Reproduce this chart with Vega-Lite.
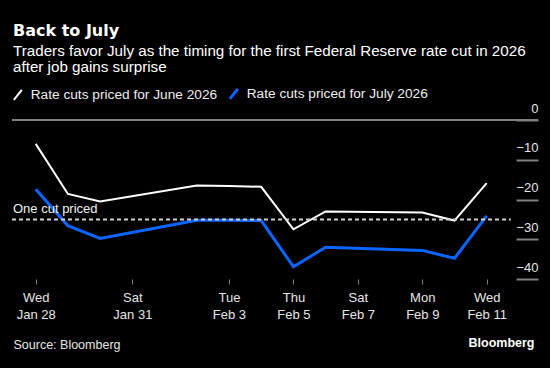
{
  "$schema": "https://vega.github.io/schema/vega-lite/v6.json",
  "autosize": {"type": "none"},
  "width": 526,
  "height": 159,
  "padding": {"left": 12, "top": 120, "right": 12, "bottom": 89},
  "background": "#000000",
  "config": {
    "view": {"stroke": null},
    "font": "Liberation Sans"
  },
  "title": {
    "text": "Back to July",
    "subtitle": ["Traders favor July as the timing for the first Federal Reserve rate cut in 2026", "after job gains surprise"],
    "anchor": "start",
    "frame": "group",
    "offset": 12,
    "dx": 1,
    "font": "DejaVu Sans",
    "fontSize": 16,
    "fontWeight": "bold",
    "color": "#ffffff",
    "subtitleFont": "Liberation Sans",
    "subtitleFontSize": 15.2,
    "subtitleColor": "#ffffff",
    "subtitleLineHeight": 16,
    "subtitlePadding": 5
  },
  "data": {
    "values": [
      {"date": "2026-01-28", "series": "Rate cuts priced for June 2026", "value": -6.0},
      {"date": "2026-01-29", "series": "Rate cuts priced for June 2026", "value": -18.6},
      {"date": "2026-01-30", "series": "Rate cuts priced for June 2026", "value": -20.5},
      {"date": "2026-02-02", "series": "Rate cuts priced for June 2026", "value": -16.5},
      {"date": "2026-02-03", "series": "Rate cuts priced for June 2026", "value": -16.6},
      {"date": "2026-02-04", "series": "Rate cuts priced for June 2026", "value": -16.8},
      {"date": "2026-02-05", "series": "Rate cuts priced for June 2026", "value": -27.5},
      {"date": "2026-02-06", "series": "Rate cuts priced for June 2026", "value": -23.0},
      {"date": "2026-02-09", "series": "Rate cuts priced for June 2026", "value": -23.3},
      {"date": "2026-02-10", "series": "Rate cuts priced for June 2026", "value": -25.3},
      {"date": "2026-02-11", "series": "Rate cuts priced for June 2026", "value": -15.9},
      {"date": "2026-01-28", "series": "Rate cuts priced for July 2026", "value": -17.4},
      {"date": "2026-01-29", "series": "Rate cuts priced for July 2026", "value": -26.6},
      {"date": "2026-01-30", "series": "Rate cuts priced for July 2026", "value": -29.8},
      {"date": "2026-02-02", "series": "Rate cuts priced for July 2026", "value": -25.2},
      {"date": "2026-02-03", "series": "Rate cuts priced for July 2026", "value": -25.2},
      {"date": "2026-02-04", "series": "Rate cuts priced for July 2026", "value": -25.3},
      {"date": "2026-02-05", "series": "Rate cuts priced for July 2026", "value": -36.9},
      {"date": "2026-02-06", "series": "Rate cuts priced for July 2026", "value": -32.0},
      {"date": "2026-02-09", "series": "Rate cuts priced for July 2026", "value": -32.8},
      {"date": "2026-02-10", "series": "Rate cuts priced for July 2026", "value": -34.8},
      {"date": "2026-02-11", "series": "Rate cuts priced for July 2026", "value": -24.1}
    ]
  },
  "layer": [
    {
      "mark": {"type": "line", "interpolate": "linear"},
      "encoding": {
        "x": {
          "field": "date",
          "type": "temporal",
          "scale": {
            "type": "utc",
            "domain": [
              {"year": 2026, "month": 1, "date": 27, "hours": 6, "minutes": 20, "utc": true},
              {"year": 2026, "month": 2, "date": 12, "hours": 14, "minutes": 14, "utc": true}
            ]
          },
          "axis": {
            "values": [
              {"year": 2026, "month": 1, "date": 28, "utc": true},
              {"year": 2026, "month": 1, "date": 31, "utc": true},
              {"year": 2026, "month": 2, "date": 3, "utc": true},
              {"year": 2026, "month": 2, "date": 5, "utc": true},
              {"year": 2026, "month": 2, "date": 7, "utc": true},
              {"year": 2026, "month": 2, "date": 9, "utc": true},
              {"year": 2026, "month": 2, "date": 11, "utc": true}
            ],
            "tickCount": 20,
            "labelExpr": "[utcFormat(datum.value, '%a'), utcFormat(datum.value, '%b %-d')]",
            "labelFontSize": 13,
            "labelColor": "#e6e6e6",
            "labelLineHeight": 17,
            "labelBaseline": "top",
            "labelAlign": "center",
            "labelPadding": 7,
            "labelFlush": false,
            "labelOverlap": false,
            "tickSize": 5,
            "tickColor": "#808080",
            "tickWidth": 1,
            "domain": false,
            "grid": false,
            "title": "Source: Bloomberg",
            "titleFontSize": 12.5,
            "titleFontWeight": "normal",
            "titleColor": "#e6e6e6",
            "titleAnchor": "start",
            "titleAlign": "left",
            "titleBaseline": "alphabetic",
            "titleX": 1,
            "titleY": 69.5
          }
        },
        "y": {
          "field": "value",
          "type": "quantitative",
          "scale": {"domain": [-40, 0], "nice": false, "zero": false},
          "axis": {
            "orient": "right",
            "values": [0, -10, -20, -30, -40],
            "tickCount": 10,
            "grid": false,
            "domain": false,
            "tickSize": -22,
            "tickColor": "#808080",
            "tickWidth": 2,
            "labelAlign": "right",
            "labelPadding": 22,
            "labelBaseline": "alphabetic",
            "labelOffset": -8,
            "labelOverlap": false,
            "labelFlush": false,
            "labelFontSize": 13,
            "labelColor": "#e6e6e6",
            "title": "Bloomberg",
            "titleAngle": 0,
            "titleFontSize": 12.5,
            "titleFontWeight": "bold",
            "titleColor": "#ffffff",
            "titleAlign": "left",
            "titleBaseline": "alphabetic",
            "titleX": -70,
            "titleY": 226.7
          }
        },
        "color": {
          "field": "series",
          "type": "nominal",
          "scale": {
            "domain": ["Rate cuts priced for June 2026", "Rate cuts priced for July 2026"],
            "range": ["#ffffff", "#0a66ff"]
          },
          "legend": {
            "orient": "none",
            "legendX": -1,
            "legendY": -33,
            "direction": "horizontal",
            "title": null,
            "padding": 0,
            "columnPadding": 5,
            "symbolType": "M-0.8,1L0.8,-1",
            "symbolSize": 100,
            "symbolStrokeWidth": 3,
            "labelOffset": 6,
            "labelFontSize": 13.7,
            "labelLimit": 400,
            "labelColor": "#eeeeee",
            "labelFont": "Liberation Sans"
          }
        },
        "strokeWidth": {
          "field": "series",
          "type": "nominal",
          "scale": {
            "domain": ["Rate cuts priced for June 2026", "Rate cuts priced for July 2026"],
            "range": [2, 3]
          },
          "legend": null
        }
      }
    },
    {
      "data": {"values": [{"zero": 0}]},
      "mark": {"type": "rule", "color": "#7f7f7f", "strokeWidth": 2},
      "encoding": {
        "y": {"field": "zero", "type": "quantitative"}
      }
    },
    {
      "data": {"values": [{"start": "2026-01-27T06:20:00Z", "end": "2026-02-11T18:00:00Z", "level": -25}]},
      "mark": {"type": "rule", "color": "#d0d0d0", "strokeWidth": 2, "strokeDash": [4, 3]},
      "encoding": {
        "x": {"field": "start", "type": "temporal"},
        "x2": {"field": "end"},
        "y": {"field": "level", "type": "quantitative"}
      }
    },
    {
      "data": {"values": [{"start": "2026-01-27T06:20:00Z", "level": -25, "label": "One cut priced"}]},
      "mark": {"type": "text", "align": "left", "baseline": "alphabetic", "dx": 1, "dy": -6, "fontSize": 13, "color": "#f2f2f2"},
      "encoding": {
        "x": {"field": "start", "type": "temporal"},
        "y": {"field": "level", "type": "quantitative"},
        "text": {"field": "label"}
      }
    }
  ]
}
